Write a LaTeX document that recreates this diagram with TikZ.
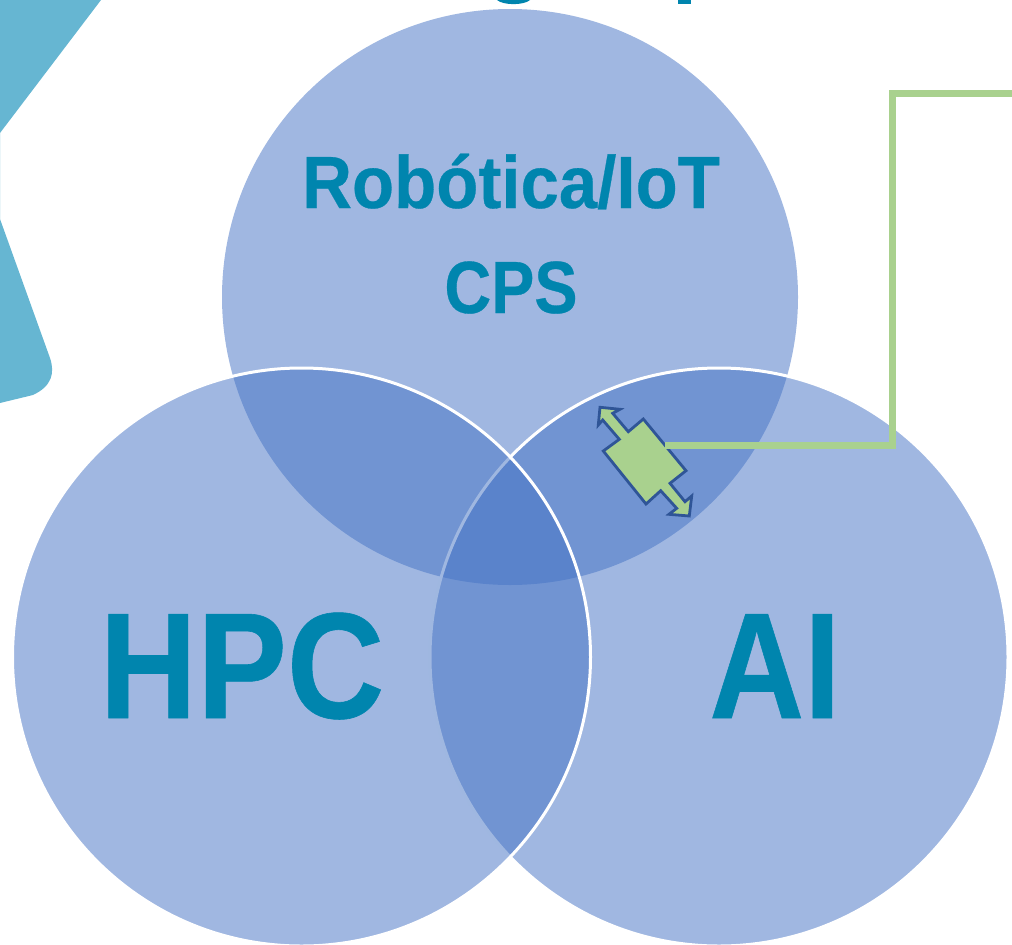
\documentclass[tikz,border=0pt]{standalone}
\usepackage{fontspec}
\setmainfont{Liberation Sans}[BoldFeatures={FakeBold=0.4}]
\definecolor{vennblue}{HTML}{4472C4}
\definecolor{labelblue}{HTML}{0085AE}
\definecolor{kite}{HTML}{66B6D2}
\definecolor{leaf}{HTML}{A9D18E}
\definecolor{edgeblue}{HTML}{2F5597}
\tikzset{
  venn/.style={circle,minimum size=576pt,inner sep=0pt,fill=vennblue,fill opacity=.51},
  vennrim/.style={venn,minimum size=578pt,draw=white,draw opacity=1,line width=3pt},
  biglabel/.style={anchor=base,inner sep=0pt,text=labelblue,font=\fontsize{151}{151}\selectfont\bfseries},
  midlabel/.style={anchor=base,inner sep=0pt,text=labelblue,font=\fontsize{74}{74}\selectfont\bfseries},
  linkline/.style={draw=leaf,line width=7pt,line cap=butt,line join=miter},
  chip/.style={fill=leaf,draw=edgeblue,line width=2.8pt,line join=miter}
}
\begin{document}
\begin{tikzpicture}[x=1pt,y=-1pt]
\useasboundingbox (0,0) rectangle (1012,945);
\clip (0,0) rectangle (1012,945);
% cropped backdrop shape and title fragments
\fill[kite] (-5,-5) -- (102,-5) -- (101,0) -- (0,133) -- (0,219) -- (50,358)
  .. controls (55,373) and (52,386) .. (33,395) -- (0,403) -- (-5,405) -- cycle;
\fill[labelblue] (497,0) .. controls (503,5.5) and (524,5.5) .. (530,0) -- cycle;
\fill[labelblue] (678,0) rectangle (691,4);
% circles
\node[venn] (top) at (510,297) {};
\node[vennrim] (right) at (719,657) {};
\node[vennrim] (left) at (301.5,657) {};
% labels
\node[midlabel] (robo) at (511,208) {\scalebox{.932}[1]{Robótica/IoT}};
\node[midlabel] (cps) at (511,313) {\scalebox{.875}[1]{CPS}};
\node[biglabel] (hpc) at (242,718) {\scalebox{.893}[1]{HPC}};
\node[biglabel] (ai) at (775,718) {\scalebox{.87}[1]{AI}};
% double-headed block
\coordinate (chipport) at (665,445);
\coordinate (bend1) at (892,445);
\coordinate (bend2) at (892,93);
\coordinate (offpage) at (1020,93);
\draw[chip] (600,407.3) -- (620,409.3) -- (612.7,413.3) -- (628.3,431.7) -- (643.3,419)
  -- (686,470.7) -- (670,483.3) -- (685,501.7) -- (691.7,496) -- (689.3,516)
  -- (669,514.3) -- (676.7,508.3) -- (660.7,490.7) -- (646,504) -- (603.3,451)
  -- (619.3,439.3) -- (602.7,420) -- (598.3,425) -- cycle;
\draw[linkline] (chipport) -- (bend1) -- (bend2) -- (offpage);
\end{tikzpicture}
\end{document}
